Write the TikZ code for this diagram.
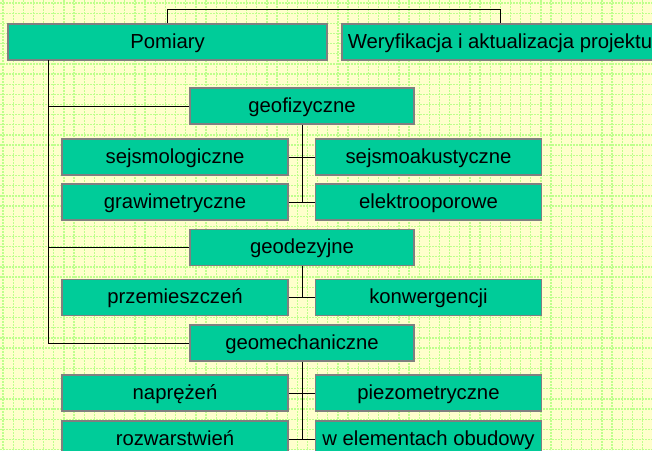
\documentclass[tikz,border=0pt]{standalone}
\usepackage{fontspec}
\setmainfont{Liberation Sans}
\definecolor{boxFill}{RGB}{0,204,153}
\definecolor{boxLine}{RGB}{128,128,128}
\definecolor{paper}{RGB}{255,255,204}
\definecolor{gridGreen}{RGB}{190,255,140}
\begin{document}
\begin{tikzpicture}[x=1pt, y=-1pt, boxStyle/.style={rectangle, draw=boxLine, fill=boxFill, line width=1.3pt, minimum width=226pt, minimum height=36pt, inner sep=0pt, text height=15pt, text depth=2.4pt, font=\fontsize{20.3}{24}\selectfont}, wideStyle/.style={boxStyle, minimum width=319pt}, midStyle/.style={boxStyle, minimum width=224pt}, lineStyle/.style={draw=black, line width=1pt}, gridStyle/.style={draw=gridGreen, line width=1.3pt, dash pattern=on 2pt off 1pt}]
                    \useasboundingbox (0, 0) rectangle (652, 450);
                    \clip (0, 0) rectangle (652, 450);
                    \fill[paper] (0, 0) rectangle (652, 450);
                    % background grid
                    \foreach \k in {0,...,64} {
                        \draw[gridStyle] (3 + 10.15*\k, 0) -- (3 + 10.15*\k, 450);
                    }
                    \foreach \k in {0,...,44} {
                        \draw[gridStyle] (0, 3 + 10.15*\k) -- (652, 3 + 10.15*\k);
                    }

                    \node[wideStyle] (pom) at (167.5, 42) {Pomiary};
                    \node[wideStyle, minimum width=316pt] (wer) at (500, 42) {Weryfikacja i aktualizacja projektu};

                    \node[midStyle] (geof)   at (302, 106) {geofizyczne};
                    \node[boxStyle] (geof_L0) at (175, 157) {sejsmologiczne};
                    \node[boxStyle] (geof_R0) at (428.5, 157) {sejsmoakustyczne};
                    \node[boxStyle] (geof_L1) at (175, 157 + 45) {grawimetryczne};
                    \node[boxStyle] (geof_R1) at (428.5, 157 + 45) {elektrooporowe};

                    \node[midStyle] (geod)   at (302, 247.5) {geodezyjne};
                    \node[boxStyle] (geod_L0) at (175, 297.5) {przemieszczeń};
                    \node[boxStyle] (geod_R0) at (428.5, 297.5) {konwergencji};

                    \node[midStyle] (geom)   at (302, 343) {geomechaniczne};
                    \node[boxStyle] (geom_L0) at (175, 393) {naprężeń};
                    \node[boxStyle] (geom_R0) at (428.5, 393) {piezometryczne};
                    \node[boxStyle] (geom_L1) at (175, 393 + 46) {rozwarstwień};
                    \node[boxStyle] (geom_R1) at (428.5, 393 + 46) {w elementach obudowy};

                    \coordinate (trunk) at (48, 60);

                    \draw[lineStyle] (pom.north) -- ++(0, -13.5) -| (wer.north);
                    \draw[lineStyle] (trunk) |- (geom.west);
                    \draw[lineStyle] (trunk |- geof.west) -- (geof.west);
                    \draw[lineStyle] (trunk |- geod.west) -- (geod.west);

                    \draw[lineStyle] (geof.south) -- (geof.south |- geof_L1.east);
                    \draw[lineStyle] (geof_L0.east) -- (geof_R0.west);
                    \draw[lineStyle] (geof_L1.east) -- (geof_R1.west);

                    \draw[lineStyle] (geod.south) -- (geod.south |- geod_L0.east);
                    \draw[lineStyle] (geod_L0.east) -- (geod_R0.west);

                    \draw[lineStyle] (geom.south) -- (geom.south |- geom_L1.east);
                    \draw[lineStyle] (geom_L0.east) -- (geom_R0.west);
                    \draw[lineStyle] (geom_L1.east) -- (geom_R1.west);
                \end{tikzpicture}
\end{document}
